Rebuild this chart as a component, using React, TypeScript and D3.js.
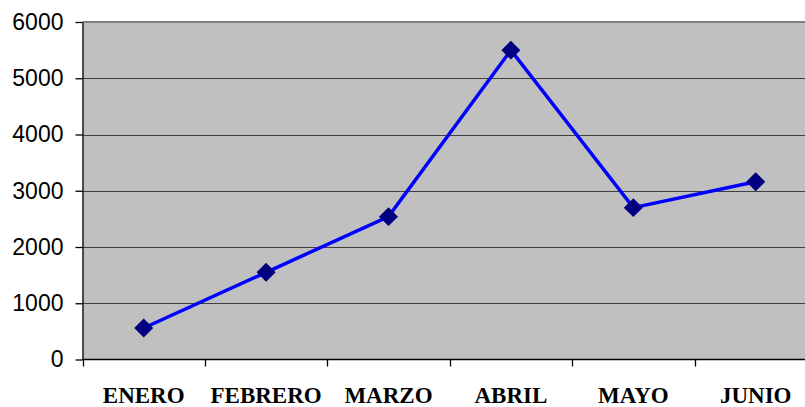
import { useEffect, useRef } from "react";
import * as d3 from "d3";

const months = ["ENERO", "FEBRERO", "MARZO", "ABRIL", "MAYO", "JUNIO"];
const values = [560, 1550, 2540, 5500, 2700, 3160];
const yTicks = [0, 1000, 2000, 3000, 4000, 5000, 6000];

export default function App() {
  const svgRef = useRef<SVGSVGElement>(null);

  useEffect(() => {
    if (!svgRef.current) return;
    const svg = d3.select(svgRef.current);
    svg.selectAll("*").remove();

    const left = 82.5;
    const top = 22;
    const bottom = 359.5;
    const step = 122.4;
    const right = left + step * months.length;

    const x = d3.scaleBand().domain(months).range([left, right]);
    const y = d3.scaleLinear().domain([0, 6000]).range([bottom, top]);

    // plot area
    svg.append("rect")
      .attr("x", left)
      .attr("y", top)
      .attr("width", right - left)
      .attr("height", bottom - top)
      .attr("fill", "#C0C0C0");

    // gridlines
    svg.append("g")
      .selectAll("line")
      .data(yTicks.filter((t) => t > 0 && t < 6000))
      .join("line")
      .attr("x1", left)
      .attr("x2", right)
      .attr("y1", (d) => Math.round(y(d)) + 0.5)
      .attr("y2", (d) => Math.round(y(d)) + 0.5)
      .attr("stroke", "#404040")
      .attr("stroke-width", 1);

    // top border
    svg.append("line")
      .attr("x1", left)
      .attr("x2", right)
      .attr("y1", top)
      .attr("y2", top)
      .attr("stroke", "#808080")
      .attr("stroke-width", 2);

    // y axis
    const yAxis = svg.append("g")
      .attr("transform", `translate(${left},0)`)
      .call(
        d3.axisLeft(y)
          .tickValues(yTicks)
          .tickFormat(d3.format("d"))
          .tickSize(7)
          .tickSizeOuter(0)
          .tickPadding(12)
      );
    yAxis.select(".domain").attr("stroke", "#000").attr("stroke-width", 1.3);
    yAxis.selectAll(".tick line").attr("stroke", "#000").attr("stroke-width", 1.3);
    yAxis.selectAll(".tick text")
      .attr("font-family", "'Liberation Sans', Arial, sans-serif")
      .attr("font-size", 23)
      .attr("fill", "#000");

    // x axis
    svg.append("line")
      .attr("x1", left)
      .attr("x2", right)
      .attr("y1", bottom)
      .attr("y2", bottom)
      .attr("stroke", "#000")
      .attr("stroke-width", 1.3);
    svg.append("g")
      .selectAll("line")
      .data(d3.range(months.length + 1))
      .join("line")
      .attr("x1", (i) => Math.round(left + i * step) + 0.5)
      .attr("x2", (i) => Math.round(left + i * step) + 0.5)
      .attr("y1", bottom)
      .attr("y2", bottom + 7)
      .attr("stroke", "#000")
      .attr("stroke-width", 1.3);

    svg.append("g")
      .selectAll("text")
      .data(months)
      .join("text")
      .attr("x", (d) => (x(d) || 0) + x.bandwidth() / 2)
      .attr("y", 403)
      .attr("text-anchor", "middle")
      .attr("font-family", "'Liberation Serif', 'Times New Roman', serif")
      .attr("font-weight", "bold")
      .attr("font-size", 23)
      .attr("fill", "#000")
      .text((d) => d);

    // series
    const cx = (i: number) => (x(months[i]) || 0) + x.bandwidth() / 2;
    const line = d3.line<number>()
      .x((_, i) => cx(i))
      .y((d) => y(d));
    svg.append("path")
      .datum(values)
      .attr("d", line)
      .attr("fill", "none")
      .attr("stroke", "#0000FF")
      .attr("stroke-width", 3.5);

    svg.append("g")
      .selectAll("path")
      .data(values)
      .join("path")
      .attr("d", d3.symbol().type(d3.symbolDiamond2).size(230))
      .attr("transform", (d, i) => `translate(${cx(i)},${y(d)})`)
      .attr("fill", "#000080");
  }, []);

  return (
    <svg
      ref={svgRef}
      width={805}
      height={407}
      style={{ position: "absolute", left: 0, top: 0, display: "block" }}
    />
  );
}
